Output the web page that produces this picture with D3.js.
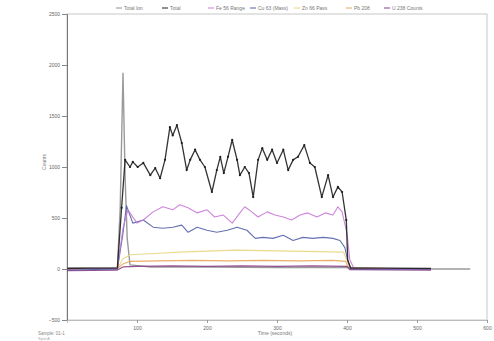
<!DOCTYPE html>
<html>
<head>
<meta charset="utf-8">
<script src="https://cdn.jsdelivr.net/npm/d3@7"></script>
<style>
  html, body { margin: 0; padding: 0; background: #fff; }
  svg { display: block; font-family: "Liberation Sans", Arial, sans-serif; }
</style>
</head>
<body>
<svg id="chart" width="494" height="341"></svg>
<script>
// Time-resolved signal, one pair of arrays (time, counts) per trace
const xTicks = [0, 100, 200, 300, 400, 500, 600];
const yTicks = [-500, 0, 500, 1000, 1500, 2000, 2500];

const seriesNames = ["Total Ion", "Total", "Fe 56 Range", "Cu 63 (Mass)", "Zn 66 Pass", "Pb 208", "U 238 Counts"];

const triggerT = [0, 40, 72, 76, 80, 83, 86, 90, 120, 200, 300, 400, 450, 520, 576];
const triggerV = [10, 8, 10, 600, 1920, 900, 300, 40, 20, 20, 15, 15, 5, 0, 0];

const totalT = [0, 35, 72, 78, 83, 90, 94, 101, 109, 119, 126, 133, 140, 147, 151, 157, 164, 171, 176, 183, 190, 197, 207, 214, 219, 224, 230, 236, 243, 247, 254, 260, 266, 273, 279, 286, 293, 300, 309, 316, 323, 330, 339, 347, 354, 364, 373, 380, 387, 393, 399, 401, 405, 450, 520];
const totalV = [5, 8, 10, 600, 1070, 1000, 1050, 1000, 1040, 920, 990, 890, 1070, 1390, 1310, 1410, 1235, 970, 1070, 1170, 1070, 1000, 755, 970, 1100, 940, 1100, 1265, 1070, 920, 1000, 940, 705, 1070, 1185, 1070, 1170, 1040, 1170, 970, 1070, 1100, 1215, 1040, 1000, 705, 920, 705, 805, 755, 480, 90, 10, 8, 5];

const pinkT = [0, 40, 72, 80, 87, 100, 109, 123, 137, 151, 161, 173, 186, 200, 211, 223, 236, 247, 254, 264, 273, 286, 297, 309, 321, 333, 344, 357, 369, 380, 387, 393, 400, 404, 410, 520];
const pinkV = [0, 5, 5, 400, 580, 450, 480, 560, 610, 580, 630, 600, 550, 580, 510, 530, 450, 550, 610, 560, 510, 560, 530, 510, 480, 530, 550, 510, 550, 530, 610, 560, 350, 90, 5, 0];

const blueT = [0, 40, 72, 80, 85, 94, 109, 123, 137, 151, 164, 173, 186, 200, 214, 229, 243, 257, 269, 280, 294, 309, 323, 337, 351, 366, 380, 390, 397, 401, 406, 520];
const blueV = [-10, -5, 0, 350, 620, 450, 480, 410, 400, 410, 430, 360, 410, 380, 360, 380, 410, 380, 300, 310, 300, 330, 280, 310, 300, 310, 300, 280, 210, 80, 0, -5];

const yellowT = [0, 72, 80, 90, 120, 160, 200, 240, 280, 320, 360, 395, 401, 405, 520];
const yellowV = [0, 5, 100, 140, 150, 165, 175, 185, 180, 175, 170, 165, 60, 5, 0];

const orangeT = [0, 72, 80, 90, 130, 180, 230, 280, 330, 380, 398, 402, 520];
const orangeV = [0, 5, 50, 75, 80, 85, 80, 85, 80, 85, 75, 10, 0];

const purpleT = [0, 72, 80, 100, 150, 200, 250, 300, 350, 400, 404, 520];
const purpleV = [-15, -10, 20, 25, 30, 25, 30, 25, 30, 25, -5, -10];

const seriesColors = ["#8f8f8f", "#1e1e1e", "#c978d8", "#5261a8", "#e8d67c", "#e9a45a", "#8a3f86"];

const traces = [
  { t: triggerT, v: triggerV, color: seriesColors[0], w: 1.4 },
  { t: yellowT, v: yellowV, color: seriesColors[4], w: 1.1 },
  { t: orangeT, v: orangeV, color: seriesColors[5], w: 1.1 },
  { t: purpleT, v: purpleV, color: seriesColors[6], w: 1.3 },
  { t: blueT, v: blueV, color: seriesColors[3], w: 1.1 },
  { t: pinkT, v: pinkV, color: seriesColors[2], w: 1.1 },
  { t: totalT, v: totalV, color: seriesColors[1], w: 1.3, dots: true }
];

const svg = d3.select("#chart");
const plotLeft = 67, plotRight = 487, plotTop = 14, plotBottom = 320;

const x = d3.scaleLinear().domain([0, 600]).range([plotLeft, plotRight]);
const y = d3.scaleLinear().domain([-500, 2500]).range([plotBottom, plotTop]);

// frame
svg.append("rect")
  .attr("x", plotLeft).attr("y", plotTop)
  .attr("width", plotRight - plotLeft).attr("height", plotBottom - plotTop)
  .attr("fill", "none").attr("stroke", "#c8c8c8").attr("stroke-width", 1);

// axes
const yAxis = d3.axisLeft(y).tickValues(yTicks).tickFormat(d3.format("d")).tickSize(5).tickPadding(2);
const gy = svg.append("g").attr("transform", `translate(${plotLeft},0)`).call(yAxis);
gy.select(".domain").attr("stroke", "#777");
gy.selectAll(".tick line").attr("stroke", "#888");
gy.selectAll(".tick text").attr("fill", "#666").style("font-size", "5px");

const xAxis = d3.axisBottom(x).tickValues(xTicks.slice(1)).tickFormat(d3.format("d")).tickSize(3).tickPadding(3);
const gx = svg.append("g").attr("transform", `translate(0,${plotBottom})`).call(xAxis);
gx.select(".domain").attr("stroke", "#bbb");
gx.selectAll(".tick line").attr("stroke", "#999");
gx.selectAll(".tick text").attr("fill", "#666").style("font-size", "5px");

// axis titles
svg.append("text")
  .attr("transform", `translate(46,${(plotTop + plotBottom) / 2 - 5}) rotate(-90)`)
  .attr("text-anchor", "middle").attr("fill", "#777").style("font-size", "5px")
  .text("Counts");
svg.append("text")
  .attr("x", 275).attr("y", 335)
  .attr("text-anchor", "middle").attr("fill", "#777").style("font-size", "5px")
  .text("Time (seconds)");
svg.append("text")
  .attr("x", 38).attr("y", 335)
  .attr("fill", "#888").style("font-size", "4.5px")
  .text("Sample: 01-1");
svg.append("text")
  .attr("x", 38).attr("y", 340)
  .attr("fill", "#aaa").style("font-size", "4px")
  .text("Spot A");

// traces
const line = d3.line().x(d => x(d[0])).y(d => y(d[1])).curve(d3.curveLinear);
const plot = svg.append("g");
traces.forEach(tr => {
  const pts = tr.t.map((t, i) => [t, tr.v[i]]);
  plot.append("path")
    .datum(pts)
    .attr("d", line)
    .attr("fill", "none")
    .attr("stroke", tr.color)
    .attr("stroke-width", tr.w)
    .attr("stroke-linejoin", "round")
    .attr("opacity", 0.9);
  if (tr.dots) {
    plot.selectAll(null)
      .data(pts.filter(p => p[1] > 300))
      .enter().append("circle")
      .attr("cx", d => x(d[0])).attr("cy", d => y(d[1]))
      .attr("r", 1.1).attr("fill", tr.color);
  }
});

// legend
const legendX = [116, 162, 208, 250, 294, 346, 384];
const legend = svg.append("g");
seriesNames.forEach((name, i) => {
  const g = legend.append("g").attr("transform", `translate(${legendX[i]},8)`);
  g.append("line").attr("x1", 0).attr("x2", 6).attr("y1", 0).attr("y2", 0)
    .attr("stroke", seriesColors[i]).attr("stroke-width", 1);
  g.append("text").attr("x", 8).attr("y", 1.8)
    .attr("fill", "#777").style("font-size", "5px")
    .text(name);
});
</script>
</body>
</html>
